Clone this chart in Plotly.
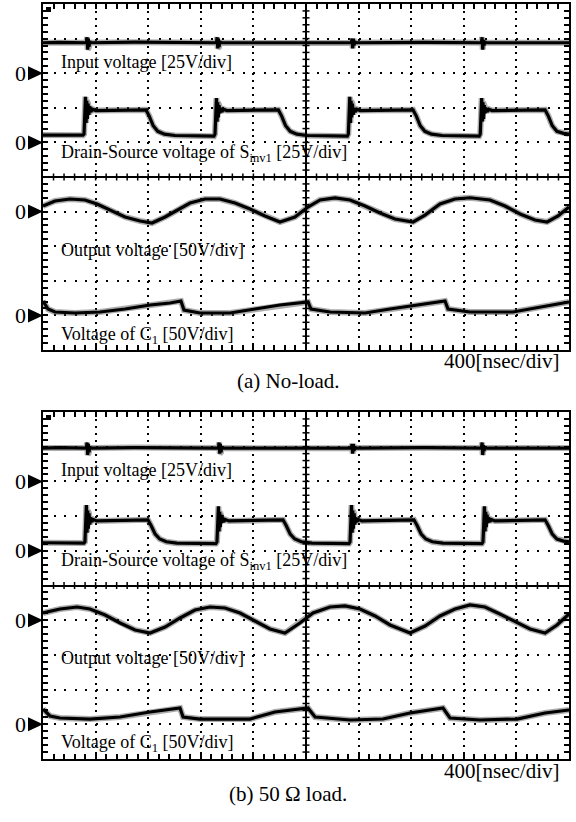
import plotly.graph_objects as go

# ---------------- data (time in ns, 400 ns/div; values in volts) ----------------
# Panel (a) No-load
a_in_t = [0, 120, 330, 335, 340, 345, 350, 356, 364, 700, 1319, 1324, 1329, 1334, 1339, 1345, 1353, 1800,
          2345, 2350, 2355, 2360, 2365, 2371, 2379, 2900, 3334, 3339, 3344, 3349, 3354, 3360, 3368, 4000]
a_in_v = [22, 22.3, 22, 26, 17, 25, 19, 23, 22, 22.4, 22, 26, 18, 25, 19, 23, 22, 21.8,
          22, 25, 18, 25, 20, 23, 22, 22.3, 22, 26, 17, 24, 20, 23, 22, 22]

a_ds_t = [0, 150,
          304, 312, 318, 323, 328, 333, 338, 343, 349, 356, 364, 377, 402, 600,
          783, 808, 838, 873, 923, 1003, 1150,
          1300, 1308, 1314, 1319, 1324, 1329, 1334, 1339, 1345, 1352, 1360, 1373, 1398, 1600,
          1790, 1815, 1845, 1880, 1930, 2010, 2150,
          2314, 2322, 2328, 2333, 2338, 2343, 2348, 2353, 2359, 2366, 2374, 2387, 2412, 2600,
          2814, 2839, 2869, 2904, 2954, 3034, 3180,
          3317, 3325, 3331, 3336, 3341, 3346, 3351, 3356, 3362, 3369, 3377, 3390, 3415, 3600,
          3818, 3843, 3873, 3908, 3958, 4000]
a_ds_v = [5.3, 5.0,
          5.2, 6, 18, 33, 14, 30, 17, 28, 20, 26, 22, 24, 23, 23.3,
          23.5, 19, 12, 8, 6, 5, 4.6,
          4.5, 6, 18, 32, 15, 29, 18, 27, 21, 25, 22, 24, 23, 23.3,
          23.5, 19, 12, 8, 6, 5, 4.6,
          4.5, 6, 19, 33, 14, 30, 18, 28, 20, 25, 22, 24, 23, 23.3,
          23.5, 19, 12, 8, 6, 5, 4.6,
          4.5, 6, 18, 32, 15, 29, 17, 27, 21, 25, 22, 24, 23, 23.3,
          23.5, 19, 12, 8, 6.5, 6]

a_out_t = [0, 91, 205, 319, 411, 510, 624, 738, 829, 928, 1027, 1118, 1232, 1346, 1460, 1574, 1688, 1802,
           1916, 2015, 2107, 2221, 2335, 2449, 2563, 2677, 2814, 2905, 3019, 3133, 3247, 3399, 3513,
           3628, 3742, 3833, 3917, 4000]
a_out_v = [8.1, 15.3, 18.2, 16.8, 11, 2.3, -7.8, -13.6, -16.5, -7.8, 2.3, 12.4, 18.2, 18.2, 12.4, 3.8,
           -6.4, -15, -7.8, 6.6, 16.8, 19.7, 16.8, 8.1, -2, -10.7, -15, -5, 11, 18.2, 20, 16.8, 8.1,
           -3.5, -12.1, -15, -6.4, 6.6]

a_c1_t = [0, 38, 91, 243, 433, 624, 814, 966, 1049, 1072, 1194, 1422, 1612, 1802, 2015, 2038, 2183,
          2449, 2639, 2867, 3057, 3080, 3247, 3574, 3780, 4000]
a_c1_v = [20.8, 9.2, 4.9, 3.5, 4.9, 9.2, 15, 17.9, 20.8, 7.8, 3.5, 3.5, 9.2, 15, 19.4, 9.2, 4.9,
          3.5, 9.2, 15, 20.8, 9.2, 4.9, 4.9, 12, 19.4]

# Panel (b) 50 ohm load
b_in_t = [0, 120, 330, 335, 340, 345, 350, 356, 364, 700, 1334, 1339, 1344, 1349, 1354, 1360, 1368, 1800,
          2345, 2350, 2355, 2360, 2365, 2371, 2379, 2900, 3334, 3339, 3344, 3349, 3354, 3360, 3368, 4000]
b_in_v = [24, 24.3, 24, 28, 19, 27, 21, 25, 24, 24.4, 24, 28, 20, 27, 21, 25, 24, 23.8,
          24, 27, 20, 27, 22, 25, 24, 24.3, 24, 28, 19, 26, 22, 25, 24, 24]

b_ds_t = [0, 150,
          311, 319, 325, 330, 335, 340, 345, 350, 356, 363, 371, 384, 409, 600,
          798, 823, 853, 888, 938, 1018, 1160,
          1315, 1323, 1329, 1334, 1339, 1344, 1349, 1354, 1360, 1367, 1375, 1388, 1413, 1620,
          1825, 1850, 1880, 1915, 1965, 2045, 2180,
          2327, 2335, 2341, 2346, 2351, 2356, 2361, 2366, 2372, 2379, 2387, 2400, 2425, 2620,
          2821, 2846, 2876, 2911, 2961, 3041, 3190,
          3338, 3346, 3352, 3357, 3362, 3367, 3372, 3377, 3383, 3390, 3398, 3411, 3436, 3620,
          3818, 3843, 3873, 3908, 3958, 4000]
b_ds_v = [5.8, 5.5,
          5.6, 6.5, 18, 33, 13, 29, 16, 27, 19, 24, 21, 22.5, 21.5, 22,
          22.3, 18, 12, 8.5, 6.5, 5.5, 5.2,
          5.2, 6.5, 18, 32, 14, 28, 17, 26, 20, 24, 21, 22.5, 21.5, 22,
          22.3, 18, 12, 8.5, 6.5, 5.5, 5.2,
          5.2, 6.5, 18, 33, 13, 29, 16, 27, 19, 24, 21, 22.5, 21.5, 22,
          22.3, 18, 12, 8.5, 6.5, 5.5, 5.2,
          5.2, 6.5, 18, 32, 14, 28, 17, 26, 20, 24, 21, 22.5, 21.5, 22,
          22.3, 18, 12, 8.5, 7, 6.5]

b_out_t = [0, 129, 259, 357, 472, 586, 700, 814, 928, 1042, 1156, 1270, 1384, 1498, 1612, 1726, 1840,
           1954, 2053, 2183, 2297, 2411, 2525, 2639, 2791, 2905, 3019, 3133, 3247, 3361, 3475, 3590,
           3704, 3818, 3909, 4000]
b_out_v = [10.4, 16.1, 19, 16.1, 7.5, -4, -14.1, -18.4, -9.8, 3.2, 14.7, 19, 17.6, 10.4, -1.2, -12.7,
           -18.4, -4, 10.4, 19, 20.5, 16.1, 6.1, -6.9, -18.4, -8.4, 6.1, 16.1, 21.9, 19, 8.9, -2.6,
           -12.7, -18.4, -6.9, 8.9]

b_c1_t = [0, 53, 129, 357, 586, 814, 1042, 1065, 1194, 1574, 1764, 2015, 2069, 2335, 2586, 2791,
          3042, 3095, 3323, 3605, 3818, 4000]
b_c1_v = [22, 12, 9.1, 7.6, 10.5, 17.7, 23.5, 10.5, 7.6, 7.6, 17.7, 23.5, 10.5, 6.2, 7.6, 16.3,
          23.5, 9.1, 6.2, 7.6, 16.3, 20.6]

# channel settings: V/div, zero level (divisions above screen centre), label
ch_scale = [25, 25, 50, 50]
ch_zero_div = [3, 1, -1, -4]
ch_labels = ["Input voltage [25V/div]",
             "Drain-Source voltage of S<sub>inv1</sub> [25V/div]",
             "Output voltage [50V/div]",
             "Voltage of C<sub>1</sub> [50V/div]"]
time_label = "400[nsec/div]"
captions = ["(a) No-load.", "(b) 50 \u03a9 load."]

panel_data = [
    [(a_in_t, a_in_v), (a_ds_t, a_ds_v), (a_out_t, a_out_v), (a_c1_t, a_c1_v)],
    [(b_in_t, b_in_v), (b_ds_t, b_ds_v), (b_out_t, b_out_v), (b_c1_t, b_c1_v)],
]

# ---------------- layout geometry (pixels) ----------------
W, H = 576, 822
X_LEFT, X_RIGHT = 43, 569
PANEL_TOP = [4, 412]
PANEL_BOT = [350, 759]
LABEL_OFF = [58, 149, 246, 331]
TIME_LABEL_Y = [361, 771]
CAPTION_Y = [381, 794]
SERIF = "Liberation Serif, Times New Roman, serif"
T_DIV = 400      # ns per division
N_DIV = 10


def fx(px):
    return px / W


def fy(py):
    return 1 - py / H


def key(prefix, n):
    return prefix + ("" if n == 1 else str(n))


fig = go.Figure()
layout = dict(width=W, height=H, margin=dict(l=0, r=0, t=0, b=0),
              paper_bgcolor="white", plot_bgcolor="white", showlegend=False)
annotations = []
shapes = []

AX_IDS = [dict(x=1, y=1, ych=[2, 3, 4, 5]), dict(x=2, y=6, ych=[7, 8, 9, 10])]

for i in range(2):
    ids = AX_IDS[i]
    top, bot = PANEL_TOP[i], PANEL_BOT[i]
    dom_x = [fx(X_LEFT), fx(X_RIGHT)]
    dom_y = [fy(bot), fy(top)]
    vstep = (bot - top) / 50.0
    hstep = (X_RIGHT - X_LEFT) / 50.0
    xref = key("x", ids["x"])
    yref = key("y", ids["y"])
    t_end = T_DIV * N_DIV

    layout[key("xaxis", ids["x"])] = dict(
        domain=dom_x, anchor=yref, range=[0, t_end], dtick=T_DIV, tick0=0,
        showgrid=True, gridcolor="black", gridwidth=2, griddash="2px,%.2fpx" % (vstep - 2),
        showline=True, linecolor="black", linewidth=2, mirror="ticks",
        ticks="inside", ticklen=5, tickcolor="black", tickwidth=1.5,
        minor=dict(dtick=T_DIV / 5, tick0=0, ticks="inside", ticklen=5, tickwidth=1.5,
                   tickcolor="black", showgrid=False),
        showticklabels=False, zeroline=False, fixedrange=True)
    layout[key("yaxis", ids["y"])] = dict(
        domain=dom_y, anchor=xref, range=[-N_DIV / 2, N_DIV / 2], dtick=1, tick0=0,
        showgrid=True, gridcolor="black", gridwidth=2, griddash="2px,%.2fpx" % (hstep - 2),
        showline=True, linecolor="black", linewidth=2, mirror="ticks",
        ticks="inside", ticklen=5, tickcolor="black", tickwidth=1.5,
        minor=dict(dtick=0.2, tick0=0, ticks="inside", ticklen=5, tickwidth=1.5,
                   tickcolor="black", showgrid=False),
        showticklabels=False, zeroline=True, zerolinecolor="black", zerolinewidth=2,
        fixedrange=True)

    # vertical centre line
    shapes.append(dict(type="line", xref=xref, yref=key("y", ids["y"]) + " domain",
                       x0=t_end / 2, x1=t_end / 2, y0=0, y1=1,
                       line=dict(color="black", width=2), layer="above"))
    # crossing ticks on the centre lines (every 1/5 division)
    for k in range(1, 5 * N_DIV):
        shapes.append(dict(type="line", xref=xref, yref=yref, ysizemode="pixel", yanchor=0,
                           x0=k * T_DIV / 5, x1=k * T_DIV / 5, y0=-3.5, y1=3.5,
                           line=dict(color="black", width=1.5), layer="above"))
        shapes.append(dict(type="line", xref=xref, yref=yref, xsizemode="pixel",
                           xanchor=t_end / 2, x0=-3.5, x1=3.5,
                           y0=-N_DIV / 2 + k * 0.2, y1=-N_DIV / 2 + k * 0.2,
                           line=dict(color="black", width=1.5), layer="above"))

    # channels
    for c in range(4):
        n = ids["ych"][c]
        s, z = ch_scale[c], ch_zero_div[c]
        layout[key("yaxis", n)] = dict(overlaying=yref, anchor=xref,
                                       range=[(-N_DIV / 2 - z) * s, (N_DIV / 2 - z) * s],
                                       showgrid=False, zeroline=False, showline=False,
                                       showticklabels=False, ticks="", fixedrange=True)
        t, v = panel_data[i][c]
        cy = key("y", n)
        fig.add_trace(go.Scatter(x=t, y=v, xaxis=xref, yaxis=cy, mode="lines",
                                 line=dict(color="rgba(70,70,70,0.45)", width=6),
                                 hoverinfo="skip"))
        fig.add_trace(go.Scatter(x=t, y=v, xaxis=xref, yaxis=cy, mode="lines",
                                 line=dict(color="black", width=3.2)))
        # label
        annotations.append(dict(text=ch_labels[c], xref="paper", yref="paper",
                                x=fx(X_LEFT + 16), y=fy(top + LABEL_OFF[c]),
                                xanchor="left", yanchor="middle", showarrow=False,
                                font=dict(family=SERIF, size=18, color="black")))
        # zero marker "0" + arrow
        zero_px = top + (N_DIV / 2 - z) * (bot - top) / N_DIV
        annotations.append(dict(text="0", xref="paper", yref="paper", x=fx(20), y=fy(zero_px),
                                xanchor="center", yanchor="middle", showarrow=False,
                                font=dict(family=SERIF, size=22, color="black")))
        shapes.append(dict(type="path", xref="paper", yref="paper",
                           path="M %.5f,%.5f L %.5f,%.5f L %.5f,%.5f Z" % (
                               fx(28), fy(zero_px - 7), fx(X_LEFT), fy(zero_px),
                               fx(28), fy(zero_px + 7)),
                           fillcolor="black", line=dict(width=0)))

    # trigger marker at top-left
    shapes.append(dict(type="rect", xref="paper", yref="paper",
                       x0=fx(X_LEFT + 3), x1=fx(X_LEFT + 8), y0=fy(top + 8), y1=fy(top + 3),
                       fillcolor="black", line=dict(width=0)))

    annotations.append(dict(text=time_label, xref="paper", yref="paper",
                            x=fx(561), y=fy(TIME_LABEL_Y[i]), xanchor="right", yanchor="middle",
                            showarrow=False, font=dict(family=SERIF, size=21, color="black")))
    annotations.append(dict(text=captions[i], xref="paper", yref="paper",
                            x=0.5, y=fy(CAPTION_Y[i]), xanchor="center", yanchor="middle",
                            showarrow=False, font=dict(family=SERIF, size=21, color="black")))

layout["annotations"] = annotations
layout["shapes"] = shapes
fig.update_layout(**layout)
fig.write_html("out.html")
